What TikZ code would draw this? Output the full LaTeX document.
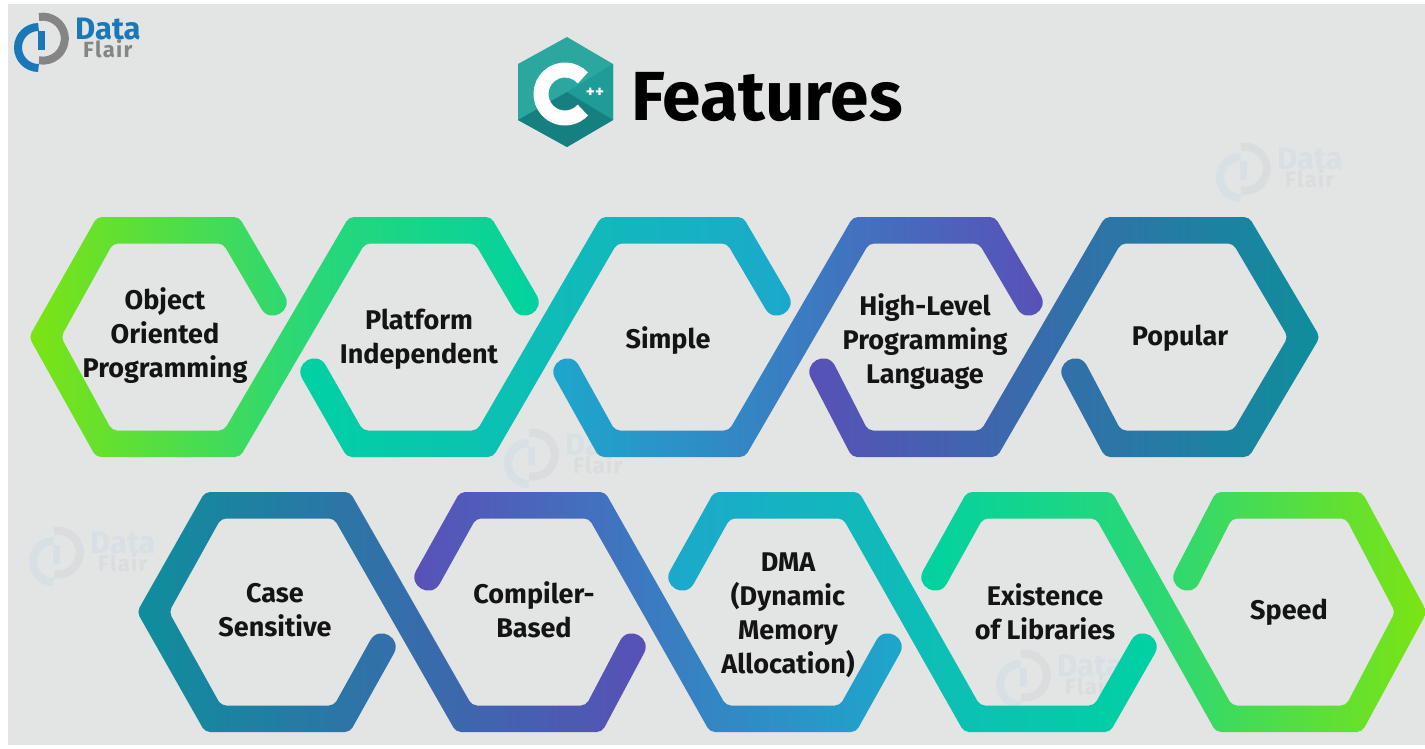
\documentclass[tikz,border=0pt]{standalone}
\usepackage{fontspec}
\setmainfont{Fira Sans}
\setlength{\lineskiplimit}{-100pt}
\definecolor{bgcol}{HTML}{E3E4E4}
\definecolor{logoblue}{HTML}{1A78B8}
\definecolor{logogray}{HTML}{858585}
\definecolor{wmblue}{HTML}{D8E0E6}
\definecolor{wmgray}{HTML}{DADDDE}
\definecolor{hexlight}{HTML}{2BA79F}
\definecolor{hexmid}{HTML}{1F9C98}
\definecolor{hexdark}{HTML}{15807F}
\definecolor{cA}{HTML}{7CE412}
\definecolor{cB}{HTML}{00D2A2}
\definecolor{cC}{HTML}{1CA8CC}
\definecolor{cD}{HTML}{5950B7}
\definecolor{cE}{HTML}{0E8E9C}
\definecolor{cG}{HTML}{2ED872}
\def\radc{5pt}
\tikzset{
  label/.style={font=\fontsize{27}{34}\selectfont\bfseries,text=black!92,align=center,inner sep=0pt},
  band/.style={left color=\colL,right color=\colR,middle color=\colM,draw=none}
}
% S-shaped band: cap, first band, second band, cap
\newcommand{\zstroke}[6]{%
\shade[band]
 ({#1-11.7},{\rowm+\rows*41.75}) [rounded corners=\radc] -- ({#2-8},{\rowm+\rows*120}) -- ({#3+8},{\rowm+\rows*120})
 -- ({#4+8},{\rowm-\rows*93.5}) -- ({#5-8},{\rowm-\rows*93.5}) [sharp corners] -- ({#6-11.7},{\rowm-\rows*28.25})
 .. controls ({#6-2.7},{\rowm-\rows*12.65}) and ({#6+20.7},{\rowm-\rows*26.15}) .. ({#6+11.7},{\rowm-\rows*41.75})
 [rounded corners=\radc] -- ({#5+8},{\rowm-\rows*120}) -- ({#4-8},{\rowm-\rows*120}) -- ({#3-8},{\rowm+\rows*93.5})
 -- ({#2+8},{\rowm+\rows*93.5}) [sharp corners] -- ({#1+11.7},{\rowm+\rows*28.25})
 .. controls ({#1+2.7},{\rowm+\rows*12.65}) and ({#1-20.7},{\rowm+\rows*26.15}) .. cycle;}
% band that starts with the whole left hexagon
\newcommand{\leftloop}[9]{%
\shade[band]
 ({#1+11.7},{\rowm-\rows*41.75}) [rounded corners=\radc] -- ({#2+8},{\rowm-\rows*120}) -- ({#3-8},{\rowm-\rows*120})
 -- ({#4-16},{\rowm}) -- ({#5-8},{\rowm+\rows*120}) -- ({#6+8},{\rowm+\rows*120})
 -- ({#7+8},{\rowm-\rows*93.5}) -- ({#8-8},{\rowm-\rows*93.5}) [sharp corners] -- ({#9-11.7},{\rowm-\rows*28.25})
 .. controls ({#9-2.7},{\rowm-\rows*12.65}) and ({#9+20.7},{\rowm-\rows*26.15}) .. ({#9+11.7},{\rowm-\rows*41.75})
 [rounded corners=\radc] -- ({#8+8},{\rowm-\rows*120}) -- ({#7-8},{\rowm-\rows*120}) -- ({#6-8},{\rowm+\rows*93.5})
 -- ({#5+8},{\rowm+\rows*93.5}) -- ({#4+16},{\rowm}) -- ({#3+8},{\rowm-\rows*93.5})
 -- ({#2-8},{\rowm-\rows*93.5}) [sharp corners] -- ({#1-11.7},{\rowm-\rows*28.25})
 .. controls ({#1-2.7},{\rowm-\rows*12.65}) and ({#1+20.7},{\rowm-\rows*26.15}) .. cycle;}
% band that ends with the whole right hexagon
\newcommand{\rightloop}[9]{%
\shade[band]
 ({#1-11.7},{\rowm+\rows*41.75}) [rounded corners=\radc] -- ({#2-8},{\rowm+\rows*120}) -- ({#3+8},{\rowm+\rows*120})
 -- ({#4+8},{\rowm-\rows*93.5}) -- ({#5-8},{\rowm-\rows*93.5}) -- ({#6-16},{\rowm})
 -- ({#7-8},{\rowm+\rows*93.5}) -- ({#8+8},{\rowm+\rows*93.5}) [sharp corners] -- ({#9+11.7},{\rowm+\rows*28.25})
 .. controls ({#9+2.7},{\rowm+\rows*12.65}) and ({#9-20.7},{\rowm+\rows*26.15}) .. ({#9-11.7},{\rowm+\rows*41.75})
 [rounded corners=\radc] -- ({#8-8},{\rowm+\rows*120}) -- ({#7+8},{\rowm+\rows*120}) -- ({#6+16},{\rowm})
 -- ({#5+8},{\rowm-\rows*120}) -- ({#4-8},{\rowm-\rows*120}) -- ({#3-8},{\rowm+\rows*93.5})
 -- ({#2+8},{\rowm+\rows*93.5}) [sharp corners] -- ({#1+11.7},{\rowm+\rows*28.25})
 .. controls ({#1+2.7},{\rowm+\rows*12.65}) and ({#1-20.7},{\rowm+\rows*26.15}) .. cycle;}
% brand mark
\newcommand{\brandmark}[4]{%
\begin{scope}[shift={(#1,#2)}]
 \draw[#3,line width=8pt] (38.5,27) arc[start angle=-90,end angle=-270,radius=20.5];
 \draw[#3,line width=7pt] (41,31) -- (41,50);
 \draw[#4,line width=8pt] (39,17) arc[start angle=-100,end angle=100,radius=22];
 \node[anchor=north west,inner sep=0pt,align=left,text=#3,font=\fontsize{31}{17.5}\selectfont\bfseries] at (75,18)
   {Data\\\mbox{\hspace{8pt}}{\color{#4}\fontsize{22}{17.5}\selectfont\addfontfeature{LetterSpace=6}Flair}};
\end{scope}}
\begin{document}
\begin{tikzpicture}[x=1pt,y=-1pt]
\useasboundingbox (0,0) rectangle (1425,749);
\fill[white] (0,0) rectangle (1425,749);
\fill[bgcol] (8,4) rectangle (1425,745);
% watermarks
\brandmark{1202}{130}{wmblue}{wmgray}
\brandmark{490}{416}{wmblue}{wmgray}
\brandmark{15}{514}{wmblue}{wmgray}
\brandmark{982}{637}{wmblue}{wmgray}
% logo top-left
\brandmark{0}{0}{logoblue}{logogray}
% C++ hexagon
\fill[hexlight] (567,37) -- (613,64) -- (613,120) -- (567,147) -- (518,120) -- (518,64) -- cycle;
\fill[hexmid] (567,92) -- (613,64) -- (613,120) -- cycle;
\fill[hexdark] (567,92) -- (613,120) -- (567,147) -- (518,120) -- cycle;
\draw[white,line width=15pt] ({565+24*cos(42)},{94-24*sin(42)}) arc[start angle=-42,end angle=-318,radius=24];
\node[inner sep=0pt,text=white,font=\fontsize{17}{17}\selectfont\bfseries] (plus) at (595,93) {++};
\node[anchor=west,inner sep=0pt,font=\fontsize{69.5}{70}\selectfont\bfseries,text=black] (title) at (631,97) {Features};
% row one
\def\rowm{337}\def\rows{1}
\def\colL{cA}\def\colR{cB}\def\colM{cG}
\leftloop{273}{231}{105}{45}{104}{232}{357}{483}{525}
\def\colL{cB}\def\colR{cC}\def\colM{cB!50!cC}
\zstroke{314}{355}{485}{609}{735}{777}
\def\colL{cC}\def\colR{cD}\def\colM{cC!50!cD}
\zstroke{567}{607}{737}{861}{987}{1029}
\def\colL{cD}\def\colR{cE}\def\colM{cD!50!cE}
\rightloop{823}{860}{989}{1113}{1241}{1304}{1241}{1113}{1075}
% row two
\def\rowm{612}\def\rows{-1}
\def\colL{cE}\def\colR{cD}\def\colM{cE!50!cD}
\leftloop{382}{342}{213}{153}{213}{342}{464}{594}{632}
\def\colL{cD}\def\colR{cC}\def\colM{cD!50!cC}
\zstroke{428}{468}{597}{718}{848}{888}
\def\colL{cC}\def\colR{cB}\def\colM{cC!50!cB}
\zstroke{682}{722}{851}{972}{1102}{1143}
\def\colL{cB}\def\colR{cA}\def\colM{cG}
\rightloop{935}{975}{1104}{1224}{1354}{1411}{1354}{1224}{1187}
% labels
\node[label] (oop) at (165,336) {Object\\Oriented\\Programming};
\node[label] (plat) at (419,339) {Platform\\Independent};
\node[label] (simp) at (668,341) {Simple};
\node[label] (high) at (925,342) {High-Level\\Programming\\Language};
\node[label] (pop) at (1180,338) {Popular};
\node[label] (cases) at (275,610) {Case\\Sensitive};
\node[label] (comp) at (534,610) {Compiler-\\Based};
\node[label] (dma) at (788,615) {DMA\\(Dynamic\\Memory\\Allocation)};
\node[label] (lib) at (1045,612) {Existence\\of Libraries};
\node[label] (speed) at (1289,612) {Speed};
\end{tikzpicture}
\end{document}
